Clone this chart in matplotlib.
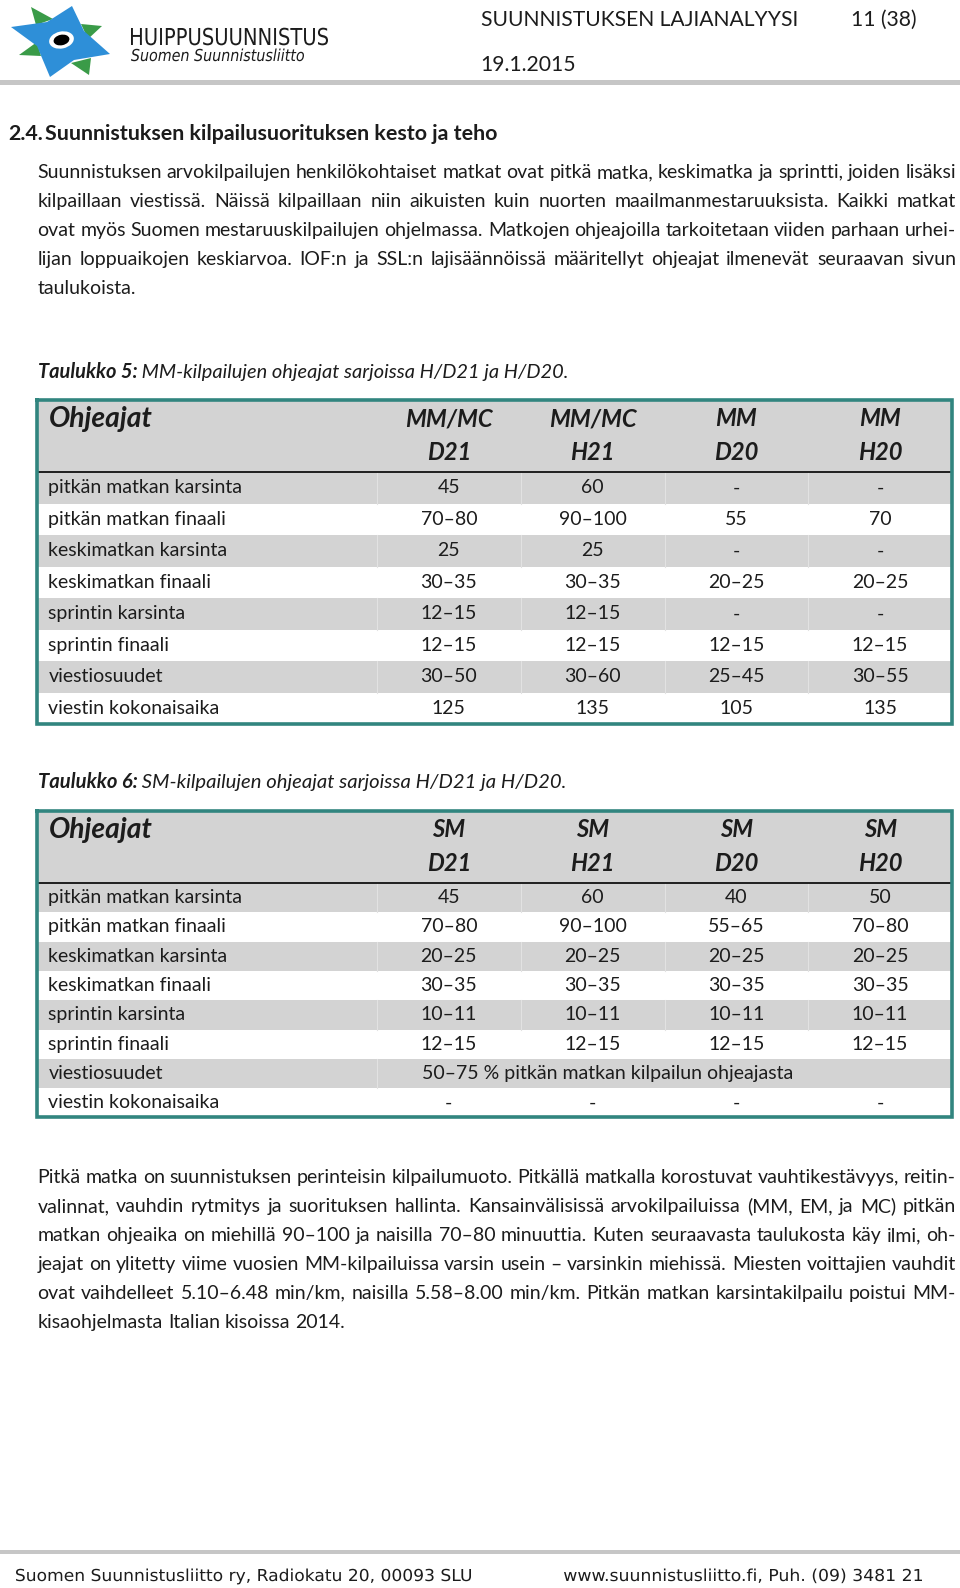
import matplotlib
matplotlib.use('Agg')
import matplotlib.pyplot as plt
from matplotlib.patches import Rectangle, Polygon, Ellipse, PathPatch
from matplotlib.textpath import TextPath
from matplotlib.font_manager import FontProperties
from matplotlib.transforms import Affine2D

# page texts
header_title = 'SUUNNISTUKSEN LAJIANALYYSI'
header_page = '11 (38)'
header_date = '19.1.2015'
logo_title = 'HUIPPUSUUNNISTUS'
logo_sub = 'Suomen Suunnistusliitto'
section_no = '2.4.'
section_title = 'Suunnistuksen kilpailusuorituksen kesto ja teho'
footer_left = 'Suomen Suunnistusliitto ry, Radiokatu 20, 00093 SLU'
footer_right = 'www.suunnistusliitto.fi, Puh. (09) 3481 21'

intro_lines = [
    'Suunnistuksen arvokilpailujen henkilökohtaiset matkat ovat pitkä matka, keskimatka ja sprintti, joiden lisäksi',
    'kilpaillaan viestissä. Näissä kilpaillaan niin aikuisten kuin nuorten maailmanmestaruuksista. Kaikki matkat',
    'ovat myös Suomen mestaruuskilpailujen ohjelmassa. Matkojen ohjeajoilla tarkoitetaan viiden parhaan urhei-',
    'lijan loppuaikojen keskiarvoa. IOF:n ja SSL:n lajisäännöissä määritellyt ohjeajat ilmenevät seuraavan sivun',
    'taulukoista.',
]
outro_lines = [
    'Pitkä matka on suunnistuksen perinteisin kilpailumuoto. Pitkällä matkalla korostuvat vauhtikestävyys, reitin-',
    'valinnat, vauhdin rytmitys ja suorituksen hallinta. Kansainvälisissä arvokilpailuissa (MM, EM, ja MC) pitkän',
    'matkan ohjeaika on miehillä 90–100 ja naisilla 70–80 minuuttia. Kuten seuraavasta taulukosta käy ilmi, oh-',
    'jeajat on ylitetty viime vuosien MM-kilpailuissa varsin usein – varsinkin miehissä. Miesten voittajien vauhdit',
    'ovat vaihdelleet 5.10–6.48 min/km, naisilla 5.58–8.00 min/km. Pitkän matkan karsintakilpailu poistui MM-',
    'kisaohjelmasta Italian kisoissa 2014.',
]

# tables
row_labels = ['pitkän matkan karsinta', 'pitkän matkan finaali', 'keskimatkan karsinta',
              'keskimatkan finaali', 'sprintin karsinta', 'sprintin finaali',
              'viestiosuudet', 'viestin kokonaisaika']
corner_label = 'Ohjeajat'

mm_caption = ('Taulukko 5:', ' MM-kilpailujen ohjeajat sarjoissa H/D21 ja H/D20.')
mm_head_top = ['MM/MC', 'MM/MC', 'MM', 'MM']
mm_head_bot = ['D21', 'H21', 'D20', 'H20']
mm_d21 = ['45', '70–80', '25', '30–35', '12–15', '12–15', '30–50', '125']
mm_h21 = ['60', '90–100', '25', '30–35', '12–15', '12–15', '30–60', '135']
mm_d20 = ['-', '55', '-', '20–25', '-', '12–15', '25–45', '105']
mm_h20 = ['-', '70', '-', '20–25', '-', '12–15', '30–55', '135']

sm_caption = ('Taulukko 6:', ' SM-kilpailujen ohjeajat sarjoissa H/D21 ja H/D20.')
sm_head_top = ['SM', 'SM', 'SM', 'SM']
sm_head_bot = ['D21', 'H21', 'D20', 'H20']
sm_d21 = ['45', '70–80', '20–25', '30–35', '10–11', '12–15', '', '-']
sm_h21 = ['60', '90–100', '20–25', '30–35', '10–11', '12–15', '', '-']
sm_d20 = ['40', '55–65', '20–25', '30–35', '10–11', '12–15', '', '-']
sm_h20 = ['50', '70–80', '20–25', '30–35', '10–11', '12–15', '', '-']
sm_relay_note = '50–75 % pitkän matkan kilpailun ohjeajasta'

# logo shapes (pixel space)
star = [(11, 27), (47, 22), (72, 6), (84, 31), (110, 54), (74, 60), (50, 77), (37, 46)]
leaves = [[(31, 7), (53, 19), (36, 25)],
          [(81, 24), (102, 26), (88, 39)],
          [(71, 63), (91, 58), (89, 75)],
          [(19, 55), (37, 42), (41, 56)]]

FONT = ['Lato', 'DejaVu Sans']
NARROW = ['DejaVu Sans']
INK = '#1c1c1c'
GRAY = '#d3d3d3'
TEAL = '#31857f'

fig = plt.figure(figsize=(9.6, 15.88), dpi=100)
ax = fig.add_axes([0, 0, 1, 1])
ax.set_xlim(0, 960)
ax.set_ylim(1588, 0)
ax.axis('off')
rend = fig.canvas.get_renderer()


def tw(t):
    return t.get_window_extent(renderer=rend).width


def fit(sample, target, **kw):
    t = ax.text(0, 0, sample, fontsize=10, **kw)
    w = tw(t)
    t.remove()
    return 10 * target / w


def put(x, y, s, **kw):
    kw.setdefault('family', FONT)
    kw.setdefault('color', INK)
    return ax.text(x, y, s, va='baseline', **kw)


def squeezed(x, y, s, width, cap, style='normal'):
    # text drawn as a path, squeezed to a narrow face
    prop = FontProperties(family='DejaVu Sans', style=style)
    size = cap / 0.729
    tp = TextPath((0, 0), s, size=size, prop=prop)
    ext = tp.get_extents()
    sx = width / ext.width
    tr = Affine2D().translate(-ext.x0, 0).scale(sx, -1).translate(x, y)
    ax.add_patch(PathPatch(tr.transform_path(tp), fc=INK, ec='none', lw=0))


def space_w(**kw):
    a = put(0, 0, 'a a', **kw)
    b = put(0, 0, 'aa', **kw)
    w = tw(a) - tw(b)
    a.remove()
    b.remove()
    return w


def justified(line, y, x0, x1, last, **kw):
    words = line.split(' ')
    ts = [put(x0, y, w, **kw) for w in words]
    ws = [tw(t) for t in ts]
    if last or len(words) == 1:
        gap = space_w(**kw)
    else:
        gap = (x1 - x0 - sum(ws)) / (len(words) - 1)
    x = x0
    for t, w in zip(ts, ws):
        t.set_x(x)
        x += w + gap


body_fs = fit(row_labels[0], 194, family=FONT)

# header
for lf in leaves:
    ax.add_patch(Polygon(lf, closed=True, fc='#3a9b48', ec='none'))
ax.add_patch(Polygon(star, closed=True, fc='#2e8fd8', ec='none'))
ax.add_patch(Ellipse((61.5, 40), 25, 17, angle=-12, fc='white', ec='none'))
ax.add_patch(Ellipse((61.5, 40), 16, 10.5, angle=-12, fc='black', ec='none'))

squeezed(131, 45, logo_title, 197, 17)
squeezed(131, 61, logo_sub, 173, 12, style='italic')

hfs = fit(header_title, 315, family=FONT)
put(481, 26, header_title, fontsize=hfs)
put(917, 26, header_page, fontsize=hfs, ha='right')
put(480, 71, header_date, fontsize=hfs)
ax.add_patch(Rectangle((0, 80), 960, 5, fc='#c6c6c6', ec='none'))

# section heading
sfs = fit(section_title, 454, family=FONT, weight='bold')
put(8, 140, section_no, fontsize=sfs, weight='bold')
put(45, 140, section_title, fontsize=sfs, weight='bold')

for i, ln in enumerate(intro_lines):
    justified(ln, 178 + i * 29, 37.5, 956, i == len(intro_lines) - 1, fontsize=body_fs)


def caption(y, parts):
    cfs = fit(parts[0] + parts[1], 527, family=FONT, style='italic')
    t = put(37.5, y, parts[0], fontsize=cfs, style='italic', weight='bold')
    put(37.5 + tw(t), y, parts[1], fontsize=cfs, style='italic')


def table(top, row_h, heads_top, heads_bot, cols, note=None):
    x0, x1, xdiv = 37, 952, 377
    colw = (x1 - xdiv) / len(cols)
    head_h = 72
    ax.add_patch(Rectangle((x0, top), x1 - x0, head_h, fc=GRAY, ec='none'))
    hfs2 = fit(corner_label, 104, family=FONT, weight='bold', style='italic')
    put(48.5, top + 27, corner_label, fontsize=hfs2, weight='bold', style='italic')
    cfs2 = fit('MM/MC', 88, family=FONT, weight='bold', style='italic')
    for j in range(len(cols)):
        cx = xdiv + colw * (j + 0.5)
        put(cx, top + 26, heads_top[j], fontsize=cfs2, weight='bold', style='italic', ha='center')
        put(cx, top + 60, heads_bot[j], fontsize=cfs2, weight='bold', style='italic', ha='center')
    btop = top + head_h
    for i, lab in enumerate(row_labels):
        y = btop + i * row_h
        merged = note is not None and i == 6
        if i % 2 == 0:
            ax.add_patch(Rectangle((x0, y), x1 - x0, row_h, fc=GRAY, ec='none'))
            for j in range(1 if merged else len(cols)):
                xx = xdiv + colw * j
                ax.plot([xx, xx], [y, y + row_h], color='#e2e2e2', lw=0.8)
        yb = y + row_h / 2 + 5.5
        put(48.5, yb, lab, fontsize=body_fs)
        for j, col in enumerate(cols):
            if col[i]:
                put(xdiv + colw * (j + 0.5), yb, col[i], fontsize=body_fs, ha='center')
        if merged:
            put(422, yb, note, fontsize=body_fs)
    bottom = btop + len(row_labels) * row_h
    ax.plot([x0, x1], [btop, btop], color='#111111', lw=1.3)
    ax.plot([x0, x1, x1, x0, x0], [top, top, bottom, bottom, top], color=TEAL, lw=2.6,
            solid_joinstyle='miter')


caption(378, mm_caption)
table(400, 31.5, mm_head_top, mm_head_bot, [mm_d21, mm_h21, mm_d20, mm_h20])

caption(788, sm_caption)
table(811, 29.3, sm_head_top, sm_head_bot, [sm_d21, sm_h21, sm_d20, sm_h20], note=sm_relay_note)

for i, ln in enumerate(outro_lines):
    justified(ln, 1183 + i * 28.95, 37.5, 956, i == len(outro_lines) - 1, fontsize=body_fs)

# footer
ax.add_patch(Rectangle((0, 1550), 960, 3.5, fc='#c6c6c6', ec='none'))
squeezed(16, 1581, footer_left, 455, 12)
squeezed(564, 1581, footer_right, 358, 12)

fig.savefig('out.png', dpi=100, facecolor='white')
